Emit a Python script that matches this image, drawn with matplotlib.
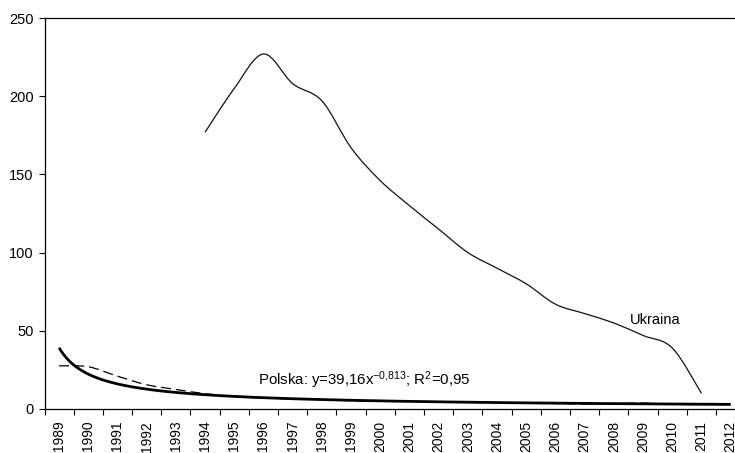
import numpy as np
import matplotlib.pyplot as plt
from matplotlib.path import Path
from matplotlib.patches import PathPatch

plt.rcParams['font.family'] = ['Liberation Sans', 'DejaVu Sans']
plt.rcParams['mathtext.fontset'] = 'custom'
plt.rcParams['mathtext.rm'] = 'Liberation Sans'
plt.rcParams['mathtext.it'] = 'Liberation Sans'
plt.rcParams['mathtext.bf'] = 'Liberation Sans'

# --- data ---
years = list(range(1989, 2013))

ukraina_years = list(range(1994, 2012))
ukraina = [177, 205, 227, 208, 197, 167, 146, 130, 115, 100,
           90, 80, 67, 61, 55, 47, 39, 10]

polska = [27.6, 27.0, 21.0, 15.5, 12.5, 9.8, 8.0, 7.0, 6.5, 6.0, 5.3, 5.0,
          4.8, 4.3, 4.2, 4.0, 3.6, 3.5, 3.2, 3.4, 3.8, 3.0, 2.9, 2.8]

# power trendline shown on the chart: y = a * x^b
trend_a = 39.16
trend_b = -0.813
trend_label = r"Polska: y=39,16x$^{\mathregular{-0{,}813}}$; R$^{\mathregular{2}}$=0,95"


def smooth_path(xs, ys):
    """Excel-like smoothed line: Catmull-Rom segments as cubic Beziers."""
    pts = np.column_stack([np.asarray(xs, float), np.asarray(ys, float)])
    verts = [pts[0]]
    codes = [Path.MOVETO]
    n = len(pts)
    for i in range(n - 1):
        p0 = pts[i - 1] if i > 0 else pts[i]
        p1 = pts[i]
        p2 = pts[i + 1]
        p3 = pts[i + 2] if i + 2 < n else pts[i + 1]
        verts += [p1 + (p2 - p0) / 6.0, p2 - (p3 - p1) / 6.0, p2]
        codes += [Path.CURVE4] * 3
    return Path(verts, codes)


fig = plt.figure(figsize=(7.35, 4.53), dpi=100)
# axes run past the right edge, as in the cropped original
ax = fig.add_axes([44.5 / 735, 1 - 409 / 453, 700.8 / 735, 391 / 453])

pos = {y: i for i, y in enumerate(years)}

# Ukraina
ux = [pos[y] for y in ukraina_years]
ax.add_patch(PathPatch(smooth_path(ux, ukraina), fill=False,
                       edgecolor='#111111', linewidth=0.9))

# Polska data (dashed)
px = [pos[y] for y in years]
ax.add_patch(PathPatch(smooth_path(px, polska), fill=False,
                       edgecolor='black', linewidth=0.9,
                       linestyle=(0, (8, 4))))

# Polska power trendline, drawn from its equation
tx = np.linspace(1, len(years), 300)
ax.plot(tx - 1, trend_a * tx ** trend_b, color='black', linewidth=2.0,
        solid_capstyle='butt')

ax.text(pos[2008] + 0.55, 57, "Ukraina", fontsize=10.5, ha='left', va='center')
ax.text(pos[1996] - 0.2, 18.5, trend_label, fontsize=10.8,
        ha='left', va='center')

ax.set_xlim(-0.5, len(years) - 0.5)
ax.set_ylim(0, 250)
ax.set_yticks(range(0, 251, 50))
ax.tick_params(axis='y', direction='out', length=4, width=0.8,
               labelsize=10.5, pad=4)

ax.set_xticks(range(len(years)))
ax.set_xticklabels([str(y) for y in years], rotation=90, fontsize=10)
ax.tick_params(axis='x', which='major', length=0, pad=8.5)
ax.set_xticks(np.arange(-0.5, len(years), 1), minor=True)
ax.tick_params(axis='x', which='minor', direction='out', length=4, width=0.8)

for s in ax.spines.values():
    s.set_linewidth(0.9)

fig.savefig('out.png', dpi=100)
